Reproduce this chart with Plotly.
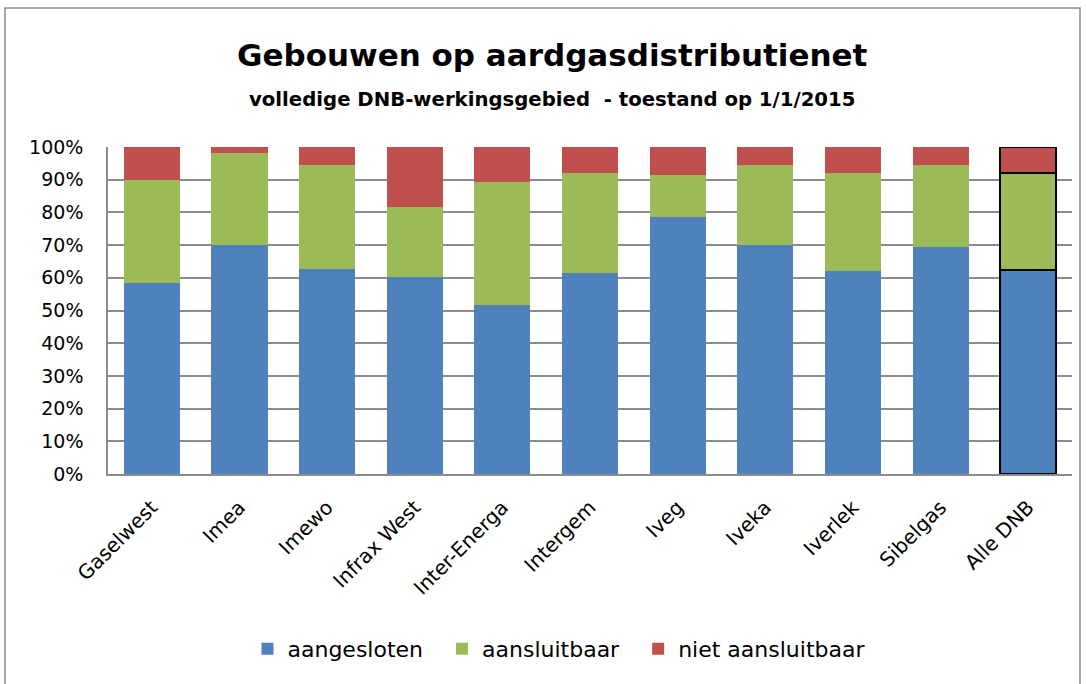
import plotly.graph_objects as go

categories = ["Gaselwest", "Imea", "Imewo", "Infrax West", "Inter-Energa", "Intergem",
              "Iveg", "Iveka", "Iverlek", "Sibelgas", "Alle DNB"]
aangesloten = [0.583, 0.699, 0.626, 0.601, 0.517, 0.615, 0.786, 0.700, 0.621, 0.695, 0.623]
aansluitbaar = [0.315, 0.283, 0.320, 0.215, 0.375, 0.305, 0.128, 0.244, 0.299, 0.249, 0.299]
niet_aansluitbaar = [0.102, 0.018, 0.054, 0.184, 0.108, 0.080, 0.086, 0.056, 0.080, 0.056, 0.078]

series = [
    ("aangesloten", aangesloten, "#4F81BD"),
    ("aansluitbaar", aansluitbaar, "#9BBB59"),
    ("niet aansluitbaar", niet_aansluitbaar, "#C0504D"),
]

FONT = "DejaVu Sans"
line_widths = [0] * (len(categories) - 1) + [2]

L, T, R, B = 108, 147, 1072, 474
PW, PH = R - L, B - T
PAD = "\u00a0\u00a0"

fig = go.Figure()
for i, (name, vals, color) in enumerate(series):
    fig.add_trace(go.Bar(
        name=name + (PAD if i < len(series) - 1 else ""), x=categories, y=vals,
        marker=dict(color=color, line=dict(color="black", width=line_widths)),
        hovertemplate=name + ": %{y:.1%}<extra></extra>",
    ))

fig.update_layout(
    barmode="stack",
    bargap=0.36,
    width=1086, height=684,
    margin=dict(l=L, r=1086 - R, t=T, b=684 - B),
    paper_bgcolor="white", plot_bgcolor="white",
    font=dict(family=FONT, size=18, color="black"),
    showlegend=True,
    legend=dict(orientation="h", x=(559 - L) / PW, xanchor="center", y=(B - 649) / PH, yanchor="middle",
                font=dict(size=22), traceorder="normal", itemwidth=30),
    annotations=[
        dict(text="<b>Gebouwen op aardgasdistributienet</b>", xref="paper", yref="paper",
             x=(552 - L) / PW, y=(B - 55) / PH, xanchor="center", yanchor="middle",
             showarrow=False, font=dict(family=FONT, size=31, color="black")),
        dict(text="<b>volledige DNB-werkingsgebied  - toestand op 1/1/2015</b>", xref="paper", yref="paper",
             x=(552 - L) / PW, y=(B - 100) / PH, xanchor="center", yanchor="middle",
             showarrow=False, font=dict(family=FONT, size=19.7, color="black")),
    ],
    shapes=[
        dict(type="rect", xref="paper", yref="paper",
             x0=(5 - L) / PW, x1=(1080 - L) / PW,
             y0=(B - 700) / PH, y1=(B - 8) / PH,
             line=dict(color="#8a8a8a", width=1.5), layer="below"),
    ],
)

fig.update_yaxes(range=[0, 1], dtick=0.1, tickformat=".0%",
                 showgrid=True, gridcolor="#8c8c8c", gridwidth=1.5,
                 showline=True, linecolor="#8c8c8c", linewidth=1.5,
                 ticks="", ticklabelstandoff=19,
                 tickfont=dict(size=19), zeroline=False)
fig.update_xaxes(tickangle=-45, showline=True, linecolor="#8c8c8c", linewidth=1.5,
                 tickfont=dict(size=20), ticks="", ticklabelstandoff=12)

fig.write_html("out.html", config={"displayModeBar": False},
               post_script="document.body.style.margin='0px';")
